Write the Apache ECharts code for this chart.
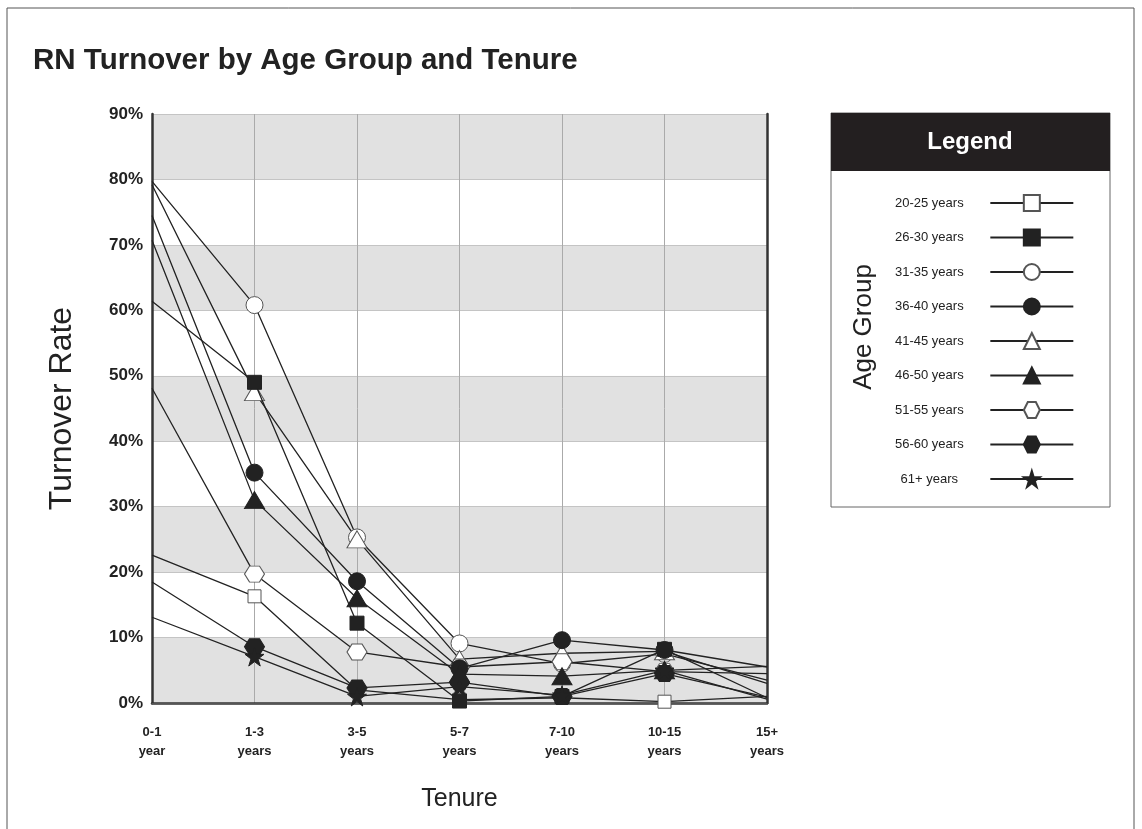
<!DOCTYPE html>
<html>
<head>
<meta charset="utf-8">
<script src="https://cdn.jsdelivr.net/npm/echarts@6/dist/echarts.min.js"></script>
<style>
html,body{margin:0;padding:0;background:#fff;}
#chart{width:1142px;height:829px;}
</style>
</head>
<body>
<div id="chart"></div>
<script>
const tenureLabels = ['0-1\nyear','1-3\nyears','3-5\nyears','5-7\nyears','7-10\nyears','10-15\nyears','15+\nyears'];
const ageGroups = ['20-25 years','26-30 years','31-35 years','36-40 years','41-45 years','46-50 years','51-55 years','56-60 years','61+ years'];
const age20_25 = [22.6, 16.3, 2.0, 0.5, 0.8, 0.2, 1.0];
const age26_30 = [61.4, 49.0, 12.2, 0.3, 1.0, 8.2, 0.8];
const age31_35 = [79.7, 60.8, 25.3, 9.1, 6.0, 7.5, 3.5];
const age36_40 = [74.5, 35.2, 18.6, 5.3, 9.6, 8.1, 5.5];
const age41_45 = [79.2, 47.5, 25.0, 6.7, 7.6, 7.9, 3.0];
const age46_50 = [70.7, 31.0, 16.0, 4.4, 4.1, 5.0, 5.6];
const age51_55 = [48.1, 19.7, 7.8, 5.5, 6.3, 4.8, 4.5];
const age56_60 = [18.5, 8.6, 2.3, 3.2, 1.0, 4.5, 0.9];
const age61plus = [13.1, 7.1, 1.0, 2.5, 1.2, 5.0, 0.6];
const yTickMax = 90, yTickStep = 10;

const hexPath = 'path://M0,5 L2.9,0 L8.7,0 L11.6,5 L8.7,10 L2.9,10 Z';
const starPath = 'path://M50,0 L61,35 L98,35 L68,57 L79,91 L50,70 L21,91 L32,57 L2,35 L39,35 Z';

const seriesDefs = [
  {data: age20_25, symbol: 'rect', size: 13, filled: false},
  {data: age26_30, symbol: 'rect', size: 14, filled: true},
  {data: age31_35, symbol: 'circle', size: 17, filled: false},
  {data: age36_40, symbol: 'circle', size: 17, filled: true},
  {data: age41_45, symbol: 'triangle', size: [20,17], filled: false},
  {data: age46_50, symbol: 'triangle', size: [20,17], filled: true},
  {data: age51_55, symbol: hexPath, size: [20,16], filled: false},
  {data: age56_60, symbol: hexPath, size: [20,16], filled: true},
  {data: age61plus, symbol: starPath, size: 19, filled: true}
];

const chart = echarts.init(document.getElementById('chart'), null, {renderer: 'canvas'});
const FONT = '"Liberation Sans", Arial, Helvetica, sans-serif';
const lastIdx = tenureLabels.length - 1;

const option = {
  backgroundColor: '#fff',
  animation: false,
  textStyle: {fontFamily: FONT},
  title: {
    text: 'RN Turnover by Age Group and Tenure',
    left: 28, top: 41,
    textStyle: {fontFamily: FONT, fontSize: 29.5, fontWeight: 'bold', color: '#222'}
  },
  grid: {
    left: 152, right: 375, top: 114, bottom: 126,
    show: false
  },
  legend: {
    orient: 'vertical',
    align: 'right',
    left: 890, top: 189,
    itemWidth: 83, itemHeight: 20, itemGap: 16.5,
    selectedMode: false,
    data: ageGroups,
    formatter: function (name) { return '{a|' + name + '}'; },
    textStyle: {
      fontFamily: FONT, fontSize: 13, color: '#222',
      rich: {a: {width: 112, align: 'center', fontSize: 13, fontFamily: FONT, color: '#222'}}
    }
  },
  xAxis: [{
    type: 'category',
    data: tenureLabels,
    boundaryGap: false,
    name: 'Tenure',
    nameLocation: 'middle',
    nameGap: 84,
    nameTextStyle: {fontFamily: FONT, fontSize: 25, color: '#222'},
    axisLine: {lineStyle: {color: '#333', width: 2.5}},
    axisTick: {show: false},
    axisLabel: {fontFamily: FONT, fontSize: 13, fontWeight: 'bold', color: '#222', lineHeight: 19, margin: 20},
    splitLine: {show: true, lineStyle: {color: '#aaa', width: 1}}
  }, {
    type: 'category',
    data: tenureLabels,
    boundaryGap: false,
    position: 'top',
    axisLine: {show: true, lineStyle: {color: '#555', width: 1}},
    axisTick: {show: false},
    axisLabel: {show: false},
    splitLine: {show: false}
  }],
  yAxis: [{
    type: 'value',
    min: 0, max: yTickMax, interval: yTickStep,
    name: 'Turnover Rate',
    nameLocation: 'middle',
    nameRotate: 90,
    nameGap: 74,
    nameTextStyle: {fontFamily: FONT, fontSize: 32, color: '#222'},
    axisLine: {show: true, lineStyle: {color: '#333', width: 2.5}},
    axisTick: {show: false},
    axisLabel: {formatter: '{value}%', fontFamily: FONT, fontSize: 17, fontWeight: 'bold', color: '#222', margin: 9},
    splitLine: {show: true, lineStyle: {color: '#c4c4c4', width: 1}},
    splitArea: {show: true, areaStyle: {color: ['#e1e1e1', '#ffffff']}}
  }, {
    type: 'value',
    min: 0, max: yTickMax, interval: yTickStep,
    position: 'right',
    axisLine: {show: true, lineStyle: {color: '#333', width: 2.5}},
    axisTick: {show: false},
    axisLabel: {show: false},
    splitLine: {show: false},
    splitArea: {show: false}
  }],
  graphic: [
    {type: 'rect', shape: {x: 7, y: 8, width: 1127, height: 900}, style: {fill: 'none', stroke: '#555', lineWidth: 1}, silent: true, z: -10},
    {type: 'rect', shape: {x: 831, y: 113, width: 279, height: 394}, style: {fill: '#fff', stroke: '#666', lineWidth: 1}, silent: true, z: -5},
    {type: 'rect', shape: {x: 831, y: 113, width: 279, height: 58}, style: {fill: '#231f20'}, silent: true, z: -4},
    {type: 'text', x: 970, y: 142, style: {text: 'Legend', fill: '#fff', font: 'bold 24px ' + FONT, textAlign: 'center', textVerticalAlign: 'middle'}, silent: true},
    {type: 'text', x: 864, y: 327, rotation: Math.PI / 2, style: {text: 'Age Group', fill: '#222', font: '26px ' + FONT, textAlign: 'center', textVerticalAlign: 'middle'}, silent: true}
  ],
  series: seriesDefs.map(function (d, i) {
    return {
      name: ageGroups[i],
      type: 'line',
      data: d.data,
      symbol: d.symbol,
      symbolSize: function (val, params) {
        return (params.dataIndex === 0 || params.dataIndex === lastIdx) ? 0 : d.size;
      },
      showAllSymbol: true,
      z: d.filled ? 4 : 2,
      lineStyle: {color: '#222', width: 1.3},
      itemStyle: d.filled
        ? {color: '#222', borderColor: '#222', borderWidth: 1}
        : {color: '#fff', borderColor: '#555', borderWidth: 1},
      emphasis: {disabled: true}
    };
  })
};
chart.setOption(option);
</script>
</body>
</html>
